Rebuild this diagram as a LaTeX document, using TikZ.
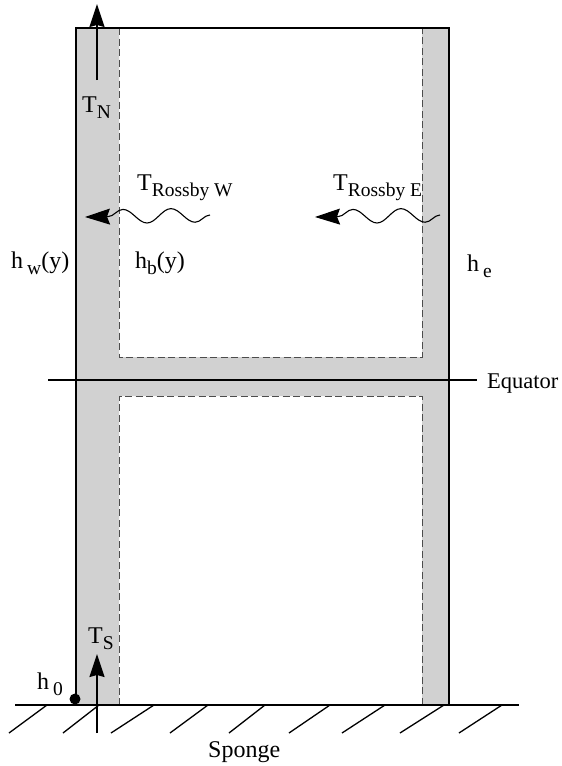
\documentclass[tikz,border=0pt]{standalone}
\usepackage{fontspec}
\setmainfont{Liberation Serif}
\usetikzlibrary{arrows.meta,decorations.pathmorphing}
\newcommand\mainsz{\fontsize{24}{26}\selectfont}
\newcommand\lowsub[1]{\raisebox{-0.28em}{\fontsize{19.5}{21}\selectfont #1}}
\tikzset{
  lab/.style={inner sep=0pt, anchor=base west, font=\mainsz},
  wall/.style={line width=1.5pt},
  inner/.style={line width=0.8pt, black!70, dash pattern=on 7pt off 3.5pt},
  flux/.style={line width=1.3pt, -{Stealth[length=23pt,width=15pt,inset=2pt]}},
  rossby/.style={line width=1.1pt, decorate,
    decoration={snake, amplitude=7pt, segment length=48pt, post length=22pt},
    -{Stealth[length=25pt,width=16pt,inset=3pt]}},
  hatch/.style={line width=1.3pt}
}
\begin{document}
\begin{tikzpicture}[x=1pt,y=-1pt]
\useasboundingbox (0,0) rectangle (562,766);
% shaded boundary layers
\fill[black!18] (76,28) -- (119,28) -- (119,357) -- (422,357) -- (422,28) -- (449,28)
  -- (449,705) -- (422,705) -- (422,396) -- (119,396) -- (119,705) -- (76,705) -- cycle;
% coordinates
\coordinate (TL) at (76,28);
\coordinate (TR) at (449,28);
\coordinate (BL) at (76,705);
\coordinate (BR) at (449,705);
% dashed inner edges
\draw[inner] (119,28) -- (119,357) -- (422,357) -- (422,28);
\draw[inner] (119,705) -- (119,396) -- (422,396) -- (422,705);
% walls
\draw[wall] (BL) -- (TL) -- (TR) -- (BR);
% equator
\coordinate (eqL) at (48,380);
\coordinate (eqR) at (477,380);
\draw[line width=1.3pt] (eqL) -- (eqR);
\node[lab, font=\fontsize{22.5}{25}\selectfont] (eq) at (487,388) {Equator};
% ground
\coordinate (gL) at (15,705);
\coordinate (gR) at (519,705);
\draw[line width=1.5pt] (gL) -- (gR);
\foreach \a/\b in {47/9, 99/63, 154/111, 208/170, 265/229, 330/289, 385/342, 444/400, 502/459}
  \draw[hatch] (\a,705) -- (\b,733);
\node[lab] (sponge) at (208,757) {Sponge};
% T_N
\coordinate (tnB) at (97,80);
\coordinate (tnT) at (97,4);
\draw[flux] (tnB) -- (tnT);
\node[lab] (tn) at (82,112) {T\lowsub{N}};
% T_S
\coordinate (tsB) at (97,733);
\coordinate (tsT) at (97,654);
\draw[flux] (tsB) -- (tsT);
\node[lab] (ts) at (88,643) {T\lowsub{S}};
% h0
\node[circle, fill=black, inner sep=0pt, minimum size=11pt] (dot) at (75,699) {};
\node[lab] (h0) at (37,689) {h\,\lowsub{0}};
% Rossby waves
\coordinate (wWr) at (210,215);
\coordinate (wWl) at (85,217);
\draw[rossby] (wWr) -- (wWl);
\node[lab] (trw) at (137,190) {T\lowsub{Rossby W}};
\coordinate (wEr) at (440,215);
\coordinate (wEl) at (315,217);
\draw[rossby] (wEr) -- (wEl);
\node[lab] (tre) at (333,190) {T\lowsub{Rossby E}};
% h labels
\node[lab] (hw) at (11,268) {h\,\lowsub{w}(y)};
\node[lab] (hb) at (135,268) {h\lowsub{b}(y)};
\node[lab] (he) at (467,271) {h\,\lowsub{e}};
\end{tikzpicture}
\end{document}
